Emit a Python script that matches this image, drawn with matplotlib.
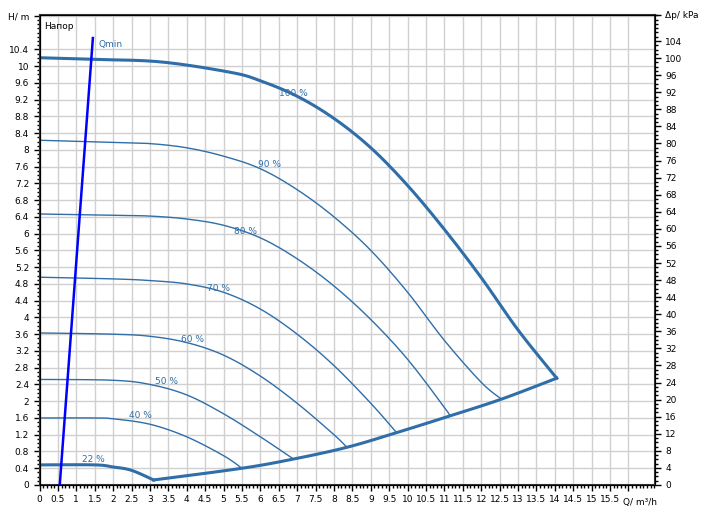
import matplotlib
matplotlib.use("Agg")
import matplotlib.pyplot as plt
import numpy as np
from matplotlib.ticker import MultipleLocator

c100_q = [0, 1.5, 3.3, 5.2, 6.0, 7.0, 8.0, 9.0, 10.0, 11.0, 12.0, 13.0, 14.05]
c100_h = [10.2, 10.16, 10.1, 9.85, 9.65, 9.28, 8.75, 8.05, 7.15, 6.1, 4.95, 3.7, 2.55]
c90_q = [0, 2, 3, 4, 5, 6, 7, 8, 9, 10, 11, 12, 12.55]
c90_h = [8.23, 8.18, 8.15, 8.05, 7.85, 7.55, 7.05, 6.4, 5.6, 4.6, 3.45, 2.45, 2.05]
c80_q = [0, 2, 3, 4, 5, 6, 7, 8, 9, 10, 11, 11.15]
c80_h = [6.47, 6.44, 6.42, 6.35, 6.2, 5.9, 5.4, 4.75, 3.95, 3.0, 1.85, 1.65]
c70_q = [0, 2, 3, 4, 5, 6, 7, 8, 9, 9.7]
c70_h = [4.96, 4.92, 4.88, 4.8, 4.6, 4.2, 3.6, 2.85, 1.95, 1.25]
c60_q = [0, 2, 3, 4, 5, 6, 7, 8, 8.35]
c60_h = [3.63, 3.6, 3.55, 3.4, 3.1, 2.6, 1.95, 1.2, 0.9]
c50_q = [0, 2, 3, 4, 5, 6, 6.9]
c50_h = [2.52, 2.5, 2.4, 2.15, 1.7, 1.15, 0.62]
c40_q = [0, 1.5, 2, 3, 4, 5, 5.5]
c40_h = [1.6, 1.6, 1.58, 1.45, 1.15, 0.7, 0.4]
c22_q = [0, 1.5, 2, 2.5, 3.1]
c22_h = [0.48, 0.48, 0.43, 0.35, 0.12]
sys_q = [3.1, 5.5, 6.9, 8.35, 9.7, 11.15, 12.55, 14.05]
sys_h = [0.12, 0.4, 0.62, 0.9, 1.25, 1.65, 2.05, 2.55]
qmin_q = [0.55, 1.45]
qmin_h = [0.0, 10.67]

labels = ["100 %", "90 %", "80 %", "70 %", "60 %", "50 %", "40 %", "22 %"]
label_q = [6.9, 6.25, 5.6, 4.85, 4.15, 3.45, 2.75, 1.45]
label_h = [9.35, 7.65, 6.05, 4.68, 3.48, 2.48, 1.65, 0.6]

col = "#2f6ea8"

def catmull(q, h, n=12):
    P = np.column_stack([q, h]).astype(float)
    P = np.vstack([P[0], P, P[-1]])
    out = []
    for i in range(1, len(P) - 2):
        p0, p1, p2, p3 = P[i-1], P[i], P[i+1], P[i+2]
        for t in np.linspace(0, 1, n, endpoint=False):
            out.append(0.5 * (2*p1 + (-p0+p2)*t + (2*p0-5*p1+4*p2-p3)*t**2 + (-p0+3*p1-3*p2+p3)*t**3))
    out.append(P[-2])
    out = np.array(out)
    return out[:, 0], out[:, 1]

fig = plt.figure(figsize=(7.07, 5.22), dpi=100)
ax = fig.add_axes([39.5/707, 1-485/522, (655-39.5)/707, (485-15)/522])
XMAX, YMAX = 16.72, 11.22
ax.set_xlim(0, XMAX); ax.set_ylim(0, YMAX)

for q, h, lw in [(c90_q, c90_h, 1), (c80_q, c80_h, 1), (c70_q, c70_h, 1),
                 (c60_q, c60_h, 1), (c50_q, c50_h, 1), (c40_q, c40_h, 1),
                 (c100_q, c100_h, 2.2), (c22_q, c22_h, 2.2)]:
    ax.plot(*catmull(q, h), color=col, lw=lw, zorder=3)
ax.plot(*catmull(sys_q, sys_h), color=col, lw=2.2, zorder=3)
ax.plot(qmin_q, qmin_h, color="#0000ff", lw=1.8, zorder=4)
ax.text(1.6, 10.45, "Qmin", color=col, fontsize=6.5)
for t, x, y in zip(labels, label_q, label_h):
    ax.text(x, y, t, color=col, fontsize=6.5, ha="center", va="center")
ax.text(0.12, 10.95, "Напор", fontsize=6.5, va="center")

ax.xaxis.set_minor_locator(MultipleLocator(0.1))
ax.yaxis.set_minor_locator(MultipleLocator(0.1))
xt = np.arange(0, 16.01, 0.5)
ax.set_xticks(xt)
ax.set_xticklabels([("%g" % v) if v < 16 else "" for v in xt], fontsize=6.5)
ax.text(16.3, -0.32, "Q/ m³/h", fontsize=6.5, ha="center", va="top")
yt = np.arange(0, 10.41, 0.4)
ax.set_yticks(list(yt) + [11.2])
ax.set_yticklabels(["%g" % round(v, 1) for v in yt] + ["H/ m"], fontsize=6.5)
ax.grid(True, which="major", color="#d0d0d0", lw=1.0, zorder=0)
ax.tick_params(which="major", length=4, width=1)
ax.tick_params(which="minor", length=2.5, width=1)
for s in ax.spines.values():
    s.set_color("#333333"); s.set_linewidth(1.5)

ax2 = ax.twinx()
ax2.set_ylim(0, YMAX * 41.9 / 42.7 * 10)
rt = np.arange(0, 104.1, 4)
ax2.set_yticks(list(rt) + [ax2.get_ylim()[1]])
ax2.set_yticklabels(["%d" % v for v in rt] + ["Δp/ kPa"], fontsize=6.5)
ax2.yaxis.set_minor_locator(MultipleLocator(1))
ax2.tick_params(which="major", length=4, width=1)
ax2.tick_params(which="minor", length=2.5, width=1)
fig.savefig("out.png", dpi=100)
